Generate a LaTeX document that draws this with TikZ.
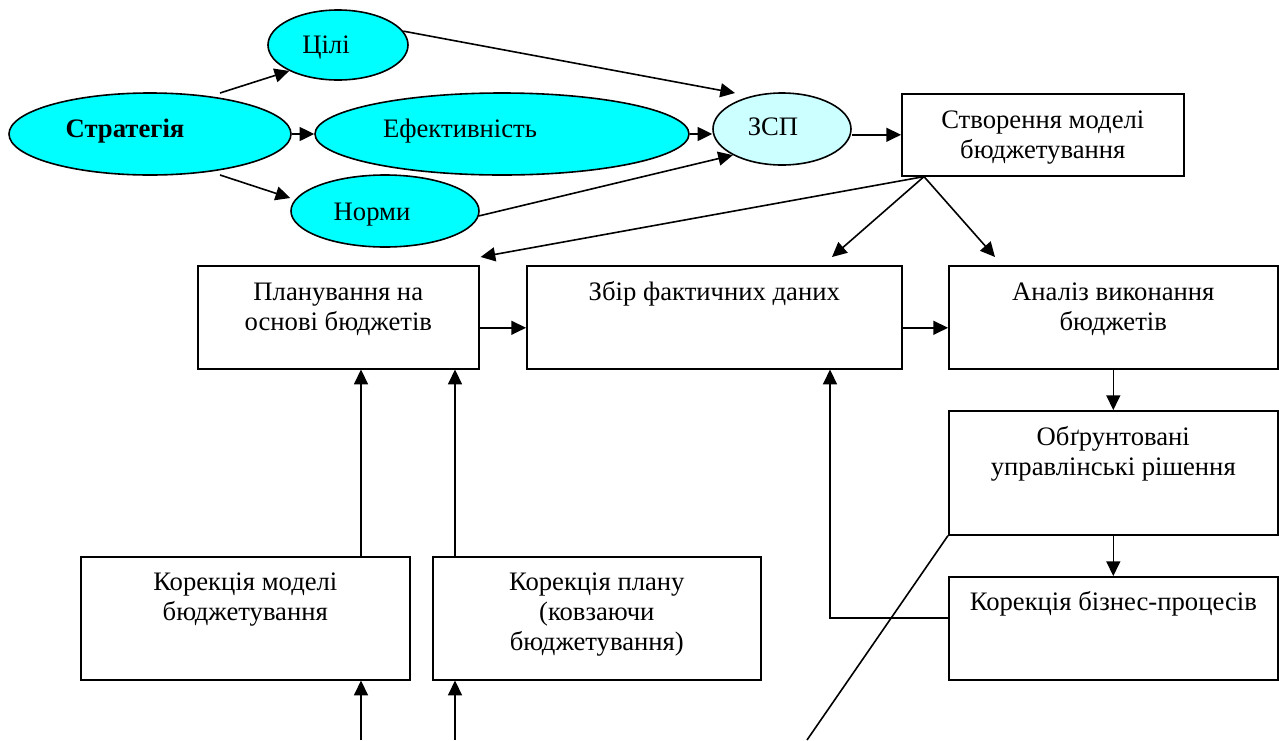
\documentclass[tikz,border=0pt]{standalone}
\usepackage{fontspec}
\setmainfont{Liberation Serif}
\usetikzlibrary{shapes.geometric,arrows.meta,calc}
\definecolor{ovalfill}{HTML}{00FFFF}
\definecolor{zspfill}{HTML}{CCFFFF}
\begin{document}
\begin{tikzpicture}[x=0.75pt,y=-0.75pt,
  line width=1.2pt,
  oval/.style={ellipse, draw=black, fill=ovalfill, inner sep=0pt},
  box/.style={rectangle, draw=black, inner sep=0pt, anchor=north west},
  txt/.style={font=\fontsize{20}{22.5}\selectfont, align=center, inner sep=0pt, anchor=base},
  arr/.style={-{Triangle[length=11pt,width=10.5pt]}}
]
\useasboundingbox (0,0) rectangle (1279,740);

% ovals of the top row
\node[oval, minimum width=211.5pt, minimum height=61.5pt] (strat) at (150,134) {};
\node[oval, minimum width=105pt, minimum height=52.5pt] (cili) at (338,45) {};
\node[oval, minimum width=280.5pt, minimum height=61.5pt] (eff) at (502,134) {};
\node[oval, minimum width=141pt, minimum height=54pt] (norm) at (385,211) {};
\node[oval, fill=zspfill, minimum width=103.5pt, minimum height=54pt] (zsp) at (782,129) {};

\node[txt, font=\fontsize{20}{22.5}\selectfont\bfseries] (strat-t) at (125,137) {Стратегія};
\node[txt] (cili-t) at (326,53) {Цілі};
\node[txt] (eff-t) at (460,137) {Ефективність};
\node[txt] (norm-t) at (372,220) {Норми};
\node[txt] (zsp-t) at (773,135) {ЗСП};

% process boxes
\node[box, minimum width=211.5pt, minimum height=61.5pt] (stv) at (901,93) {};
\node[box, minimum width=210.75pt, minimum height=77.25pt] (plan) at (197,265) {};
\node[box, minimum width=281.25pt, minimum height=77.25pt] (zbir) at (526,265) {};
\node[box, minimum width=246.75pt, minimum height=77.25pt] (analiz) at (948,265) {};
\node[box, minimum width=246.75pt, minimum height=93pt] (obg) at (948,410) {};
\node[box, minimum width=246.75pt, minimum height=77.25pt] (kbp) at (948,576) {};
\node[box, minimum width=246.75pt, minimum height=92.25pt] (km) at (80,556) {};
\node[box, minimum width=246pt, minimum height=92.25pt] (kp) at (432,556) {};

% box labels, placed by the baseline of their last line
\node[txt] (stv-t) at ($(stv.north)+(0,65)$) {Створення моделі\\бюджетування};
\node[txt] (plan-t) at ($(plan.north)+(0,65)$) {Планування на\\основі бюджетів};
\node[txt] (zbir-t) at ($(zbir.north)+(0,35)$) {Збір фактичних даних};
\node[txt] (analiz-t) at ($(analiz.north)+(0,65)$) {Аналіз виконання\\бюджетів};
\node[txt] (obg-t) at ($(obg.north)+(0,65)$) {Обґрунтовані\\управлінські рішення};
\node[txt] (kbp-t) at ($(kbp.north)+(0,34)$) {Корекція бізнес-процесів};
\node[txt] (km-t) at ($(km.north)+(0,64)$) {Корекція моделі\\бюджетування};
\node[txt] (kp-t) at ($(kp.north)+(0,94)$) {Корекція плану\\(ковзаючи\\бюджетування)};

% connectors between the ovals
\draw[arr] ($(strat.center)+(70,-41)$) -- (cili.208);
\draw[arr] (strat.east) -- (eff.west);
\draw[arr] ($(strat.center)+(70,41)$) -- ([yshift=9.75pt]norm.west);
\draw[arr] (cili.12) -- ($(zsp.center)+(-47,-36)$);
\draw[arr] (eff.east) -- (eff.east -| zsp.west);
\draw[arr] (norm.-3) -- (zsp.208);
\draw[arr] (zsp.east |- stv.west) -- (stv.west);

% from the budgeting model to the three stages
\coordinate (fork) at ($(stv.south west)+(23,0)$);
\draw[arr] (fork) -- ($(plan.north east)+(1,-8)$);
\draw[arr] (fork) -- ($(zbir.north west)+(306,-8)$);
\draw[arr] (fork) -- ($(analiz.north west)+(47,-8)$);

% main chain
\coordinate (pz) at ($(plan.east)+(0,10.5)$);
\draw[arr] (pz) -- (pz -| zbir.west);
\coordinate (za) at ($(zbir.east)+(0,10.5)$);
\draw[arr] (za) -- (za -| analiz.west);
\draw[arr] (analiz.south) -- (obg.north);
\draw[arr] (obg.south) -- (kbp.north);

% feedback from business-process correction
\coordinate (kw) at ($(kbp.west)+(0,-10.5)$);
\coordinate (zb) at ($(zbir.south west)+(304,0)$);
\draw[arr] (kw) -| (zb);

% corrections feeding planning
\coordinate (kmtop) at ($(km.north west)+(281,0)$);
\draw[arr] (kmtop) -- (kmtop |- plan.south);
\coordinate (kptop) at ($(kp.north west)+(23,0)$);
\draw[arr] (kptop) -- (kptop |- plan.south);
\coordinate (kmin) at (361,740);
\draw[arr] (kmin) -- (kmin |- km.south);
\coordinate (kpin) at (455,740);
\draw[arr] (kpin) -- (kpin |- kp.south);

% loose line from the decisions box
\coordinate (cut) at (807,740);
\draw (obg.south west) -- (cut);
\end{tikzpicture}
\end{document}
